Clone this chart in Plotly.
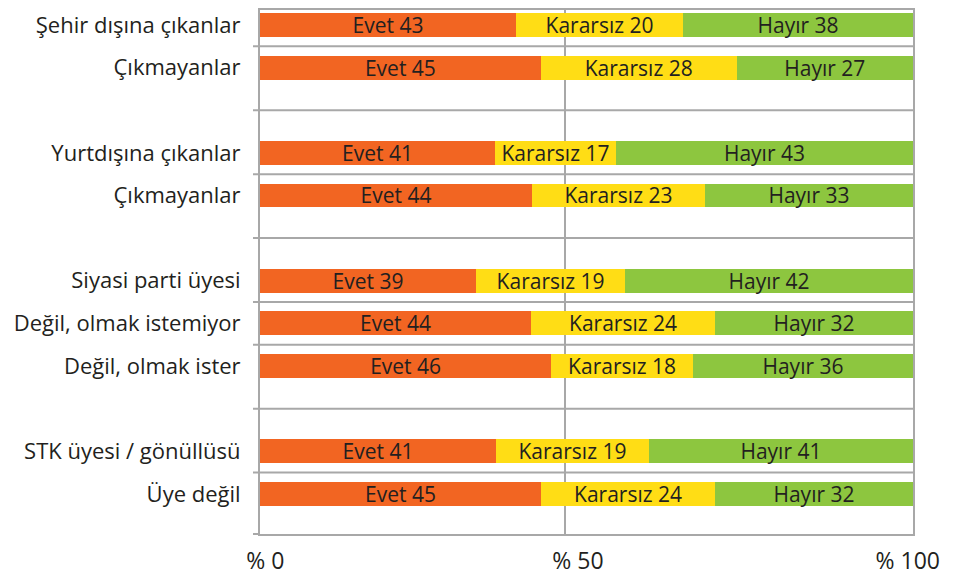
import plotly.graph_objects as go

# Row labels (top to bottom) and group membership (a blank slot separates groups)
labels = ["Şehir dışına çıkanlar", "Çıkmayanlar",
          "Yurtdışına çıkanlar", "Çıkmayanlar",
          "Siyasi parti üyesi", "Değil, olmak istemiyor", "Değil, olmak ister",
          "STK üyesi / gönüllüsü", "Üye değil"]
groups = [0, 0, 1, 1, 2, 2, 2, 3, 3]

# Printed values
evet = [43, 45, 41, 44, 39, 44, 46, 41, 45]
kararsiz = [20, 28, 17, 23, 19, 24, 18, 19, 24]
hayir = [38, 27, 43, 33, 42, 32, 36, 41, 32]

# Drawn segment shares (% of bar length)
evet_w = [39.2, 43.0, 36.0, 41.7, 33.1, 41.5, 44.6, 36.1, 43.0]
kararsiz_w = [25.6, 30.0, 18.5, 26.5, 22.8, 28.2, 21.7, 23.4, 26.6]
hayir_w = [35.2, 27.0, 45.5, 31.9, 44.1, 30.3, 33.7, 40.4, 30.3]

# x tick labels and where they (and the middle gridline) sit in the picture
x_ticktext = ["% 0", "% 50", "% 100"]
x_tickpos = [0.8, 48.7, 99.2]
x_midgrid = [46.7]

series = [
    ("Evet", evet, evet_w, "#F26522"),
    ("Kararsız", kararsiz, kararsiz_w, "#FFDD15"),
    ("Hayır", hayir, hayir_w, "#8DC63F"),
]

pos = [i + g for i, g in enumerate(groups)]
FONT = "Open Sans"
TXT = "#231F20"
GRID = "#A8A8A8"

fig = go.Figure()
for name, vals, widths, color in series:
    fig.add_trace(go.Bar(
        y=pos, x=widths, orientation="h", name=name,
        marker=dict(color=color, line=dict(width=0)),
        width=0.56,
        text=[f"{name} {v}" for v in vals],
        textposition="inside", insidetextanchor="middle",
        textangle=0, constraintext="none",
        textfont=dict(family=FONT, size=21, color=TXT),
        hoverinfo="skip",
    ))

# horizontal separators between consecutive rows (tick marks stick out left)
seps = [(pos[i] + pos[i + 1]) / 2 for i in range(len(pos) - 1)]
for yv in seps:
    fig.add_shape(type="line", xref="paper", yref="y",
                  x0=-7 / 653, x1=1, y0=yv, y1=yv,
                  line=dict(color=GRID, width=2), layer="below")
# little tick of the bottom axis sticking out left
fig.add_shape(type="line", xref="paper", yref="paper",
              x0=-7 / 653, x1=0, y0=0, y1=0,
              line=dict(color=GRID, width=2), layer="below")

fig.update_layout(
    width=948, height=568,
    margin=dict(l=252, r=43, t=0, b=42),
    barmode="stack", barnorm="percent",
    showlegend=False,
    plot_bgcolor="white", paper_bgcolor="white",
    font=dict(family=FONT, color=TXT),
    xaxis=dict(range=[0, 100], tickvals=x_tickpos, ticktext=x_ticktext,
               showgrid=False,
               minor=dict(tickvals=x_midgrid, showgrid=True,
                          gridcolor=GRID, gridwidth=1.5, ticks=""),
               zeroline=False, showline=True, linecolor=GRID, linewidth=2,
               mirror=True, ticks="", ticklabelstandoff=5,
               tickfont=dict(family=FONT, size=23, color=TXT), fixedrange=True),
    yaxis=dict(range=[11.94, -0.35], tickvals=pos, ticktext=labels,
               showgrid=False, zeroline=False, showline=True,
               linecolor=GRID, linewidth=2, mirror=True, ticks="",
               ticklabelstandoff=13,
               tickfont=dict(family=FONT, size=22, color=TXT), fixedrange=True),
)

fig.write_html("out.html")
